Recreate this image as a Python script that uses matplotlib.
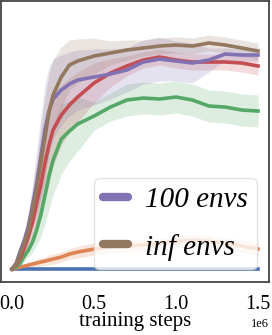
from matplotlib import pyplot as plt
import numpy as np

plt.rcParams['font.family'] = ['Liberation Serif', 'DejaVu Serif']

# training steps (x1e6)
steps = [0, 0.025, 0.05, 0.075, 0.1, 0.125, 0.15, 0.175, 0.2, 0.225, 0.25, 0.3, 0.35, 0.4,
         0.5, 0.6, 0.7, 0.8, 0.9, 1.0, 1.1, 1.2, 1.3, 1.4, 1.5]

blue_mean = [0] * 25
blue_std = [1] * 25

orange_mean = [0, 1, 2, 3, 4, 5, 6, 7, 8, 9, 10, 12, 15, 17, 20, 22, 23, 24, 26, 28, 29, 28, 26, 23, 20]
orange_std = [1, 1, 2, 2, 3, 3, 4, 4, 4, 5, 5, 5, 5, 6, 6, 6, 6, 6, 6, 6, 6, 6, 6, 6, 6]

green_mean = [0, 2, 6, 13, 19, 27, 39, 54, 73, 93, 109, 130, 138, 145, 153, 162, 169, 171, 170, 172, 169, 163, 162, 159, 158]
green_std = [1, 2, 3, 5, 7, 10, 15, 22, 28, 33, 35, 35, 30, 27, 14, 14, 16, 16, 16, 16, 16, 16, 16, 16, 16]

red_mean = [0, 4, 11, 21, 33, 47, 66, 84, 106, 124, 139, 154, 164, 172, 186, 196, 203, 209, 212, 209, 207, 207, 207, 206, 203]
red_std = [1, 2, 4, 6, 10, 15, 22, 30, 36, 38, 36, 30, 27, 25, 20, 14, 10, 8, 8, 8, 8, 8, 8, 9, 9]

purple_mean = [0, 6, 18, 29, 43, 64, 86, 112, 139, 158, 170, 179, 185, 189, 192, 195, 199, 207, 210, 208, 206, 209, 215, 214, 214]
purple_std = [1, 3, 6, 10, 15, 22, 32, 40, 45, 44, 40, 35, 32, 30, 28, 25, 22, 22, 22, 20, 20, 12, 6, 6, 6]

brown_mean = [0, 5, 15, 26, 39, 59, 81, 106, 131, 157, 174, 192, 204, 208, 213, 216, 219, 221, 223, 224, 223, 226, 224, 221, 218]
brown_std = [1, 3, 5, 9, 14, 20, 28, 35, 40, 38, 35, 30, 25, 22, 18, 12, 10, 8, 8, 8, 8, 8, 8, 8, 8]

series = [
    (blue_mean, blue_std, '#4C72B0', None),
    (orange_mean, orange_std, '#DD8452', None),
    (green_mean, green_std, '#55A868', None),
    (red_mean, red_std, '#C44E52', None),
    (purple_mean, purple_std, '#8172B3', '100 envs'),
    (brown_mean, brown_std, '#937860', 'inf envs'),
]

fig = plt.figure(figsize=(2.72, 3.35), dpi=100)
ax = fig.add_axes([0.004, 0.158, 0.985, 0.839])

x = np.array(steps) * 1e6
for mean, std, color, label in series:
    m = np.array(mean)
    s = np.array(std)
    ax.fill_between(x, m - s, m + s, color=color, alpha=0.2, linewidth=0)
    ax.plot(x, m, color=color, linewidth=2.6, label=label)

ax.set_xlim(-0.067e6, 1.567e6)
ax.set_ylim(-13, 268)
ax.set_yticks([])
ax.set_xticks([0, 0.5e6, 1.0e6, 1.5e6])
ax.tick_params(axis='x', length=0, labelsize=14.5, pad=9)
ax.xaxis.get_offset_text().set_fontsize(9)
ax.set_xlabel('training steps', fontsize=15, labelpad=-1)
for sp in ax.spines.values():
    sp.set_color('#444444')
    sp.set_linewidth(1.3)

leg = ax.legend(loc='lower right', bbox_to_anchor=(0.955, 0.045), borderaxespad=0,
                prop={'style': 'italic', 'size': 21}, handlelength=0.85, handletextpad=0.6,
                labelspacing=0.7, borderpad=0.3, framealpha=0.8, edgecolor='#dddddd', fancybox=True)
for line in leg.get_lines():
    line.set_linewidth(6)
    line.set_solid_capstyle('round')

plt.savefig('out.png', dpi=100)
